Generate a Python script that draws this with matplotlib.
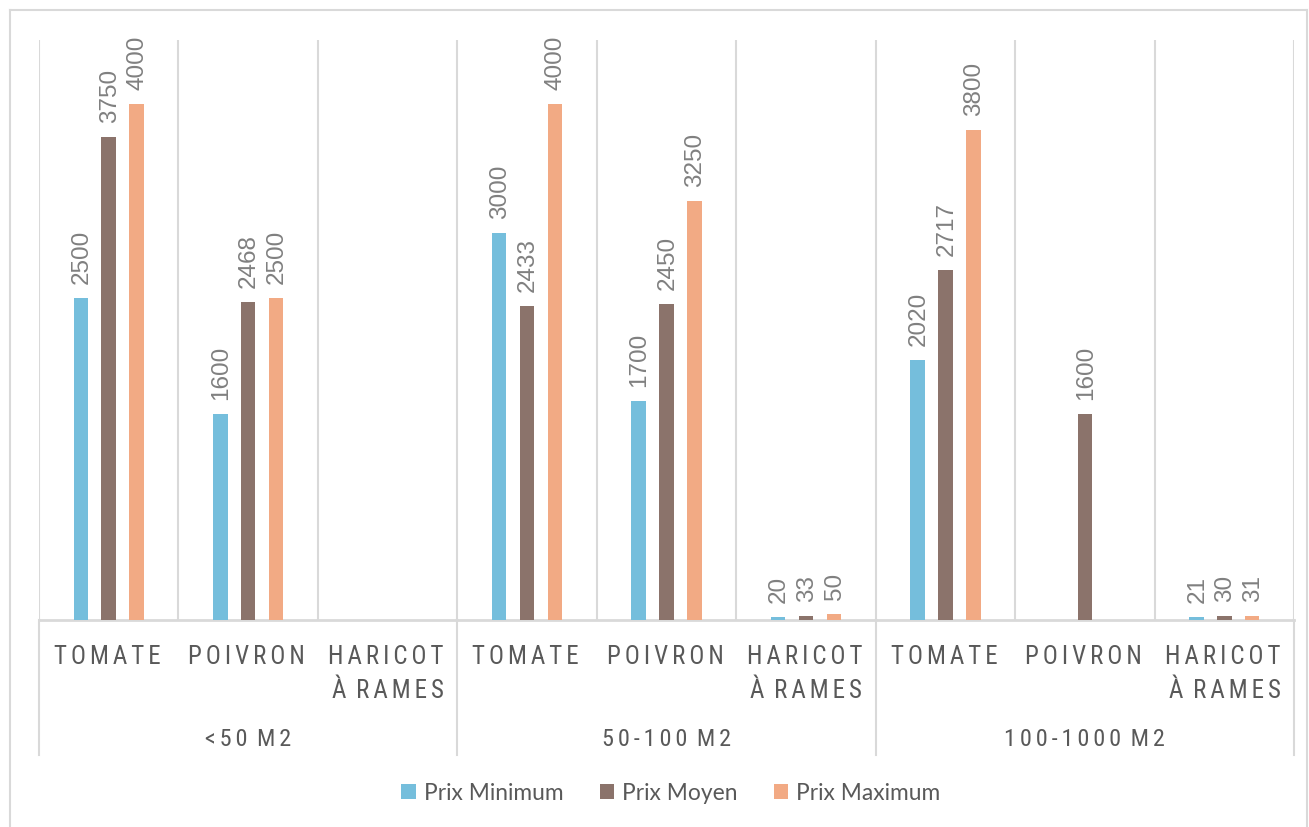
import matplotlib
matplotlib.use('Agg')
import matplotlib.pyplot as plt
import numpy as np
from matplotlib.patches import Patch
from matplotlib.lines import Line2D

groups = ['<50 M2', '50-100 M2', '100-1000 M2']
crops = ['TOMATE', 'POIVRON', 'HARICOT\nÀ RAMES']
series = ['Prix Minimum', 'Prix Moyen', 'Prix Maximum']
prix_min = [2500, 1600, np.nan, 3000, 1700, 20, 2020, np.nan, 21]
prix_moy = [3750, 2468, np.nan, 2433, 2450, 33, 2717, 1600, 30]
prix_max = [4000, 2500, np.nan, 4000, 3250, 50, 3800, np.nan, 31]
colors = ['#75BEDC', '#8B736B', '#F2AA84']

W, H = 1309, 827
fig = plt.figure(figsize=(W / 100, H / 100), dpi=100)
fig.patch.set_facecolor('white')

grid_c = '#D9D9D9'
txt_c = '#595959'
val_c = '#808080'
cat_family = ['Roboto Condensed', 'DejaVu Sans']
SP = '\u2006'


def spaced(s):
    out = []
    for line in s.split('\n'):
        t = SP.join(list(line))
        t = t.replace(SP + ' ' + SP, ' ' + SP)
        out.append(t)
    return '\n'.join(out)


# outer chart border
for (xs, ys) in [([10, 10], [0, 817]), ([10, 1307], [817, 817]), ([1307, 1307], [817, 0])]:
    fig.add_artist(Line2D([x / W for x in xs], [y / H for y in ys], color=grid_c, lw=1.5,
                          transform=fig.transFigure))

ax = fig.add_axes([39 / W, 1 - 620 / H, (1294 - 39) / W, 580 / H])
ax.set_xlim(-0.5, 8.5)
ax.set_ylim(0, 4500)
for s in ax.spines.values():
    s.set_visible(False)
ax.set_xticks([])
ax.set_yticks([])

n = len(prix_min)
x = np.arange(n)
width = 0.104
offsets = [-0.2, 0.0, 0.2]
data = [prix_min, prix_moy, prix_max]

for b in np.arange(-0.5, n, 1.0):
    ax.axvline(b, color=grid_c, lw=1.5, zorder=0)
ax.axhline(0, color=grid_c, lw=2, zorder=1, clip_on=False)

for vals, off, col, name in zip(data, offsets, colors, series):
    ax.bar(x + off, vals, width=width, color=col, label=name, zorder=2)
    for xi, v in zip(x, vals):
        if not np.isnan(v):
            ax.annotate(f'{int(v)}', xy=(xi + off, v), xytext=(1, 14), textcoords='offset pixels',
                        rotation=90, ha='center', va='bottom', fontsize=17.5, color=val_c,
                        family=['Liberation Sans', 'DejaVu Sans'])

# group separators below axis
trans = ax.get_xaxis_transform()
for b in [-0.5, 2.5, 5.5, 8.5]:
    ax.add_line(Line2D([b, b], [0, -135 / 580], transform=trans, color=grid_c, lw=1.5, clip_on=False))

# category labels
for gi, g in enumerate(groups):
    for ci, c in enumerate(crops):
        xi = gi * 3 + ci
        ax.annotate(spaced(c), xy=(xi - 0.01, 0), xycoords=('data', 'axes fraction'),
                    xytext=(0, -25), textcoords='offset pixels', ha='center', va='top',
                    multialignment='right', fontsize=18, color=txt_c, family=cat_family,
                    linespacing=1.5)
    ax.annotate(spaced(g), xy=(gi * 3 + 1, 0), xycoords=('data', 'axes fraction'),
                xytext=(0, -119), textcoords='offset pixels', ha='center', va='center',
                fontsize=17.5, color=txt_c, family=cat_family)

handles = [Patch(facecolor=c, edgecolor='none', label=s) for c, s in zip(colors, series)]
fig.legend(handles=handles, loc='center', bbox_to_anchor=(671 / W, 1 - 793 / H), ncol=3,
           frameon=False, handlelength=0.62, handleheight=0.62, handletextpad=0.36,
           columnspacing=1.6, labelcolor=txt_c,
           prop={'family': ['Lato', 'DejaVu Sans'], 'size': 16.4})

fig.savefig('out.png', dpi=100)
